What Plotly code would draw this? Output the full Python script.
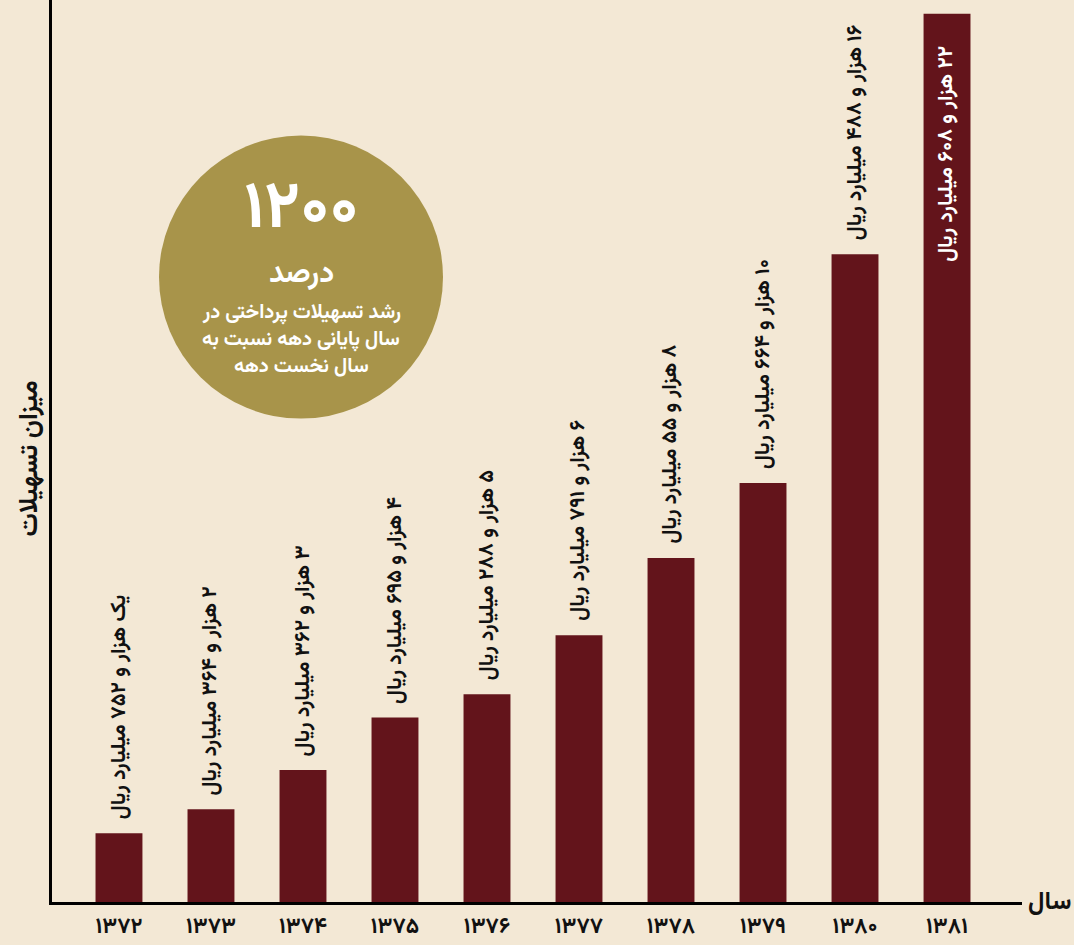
import plotly.graph_objects as go

# داده‌ها
years = ["۱۳۷۲", "۱۳۷۳", "۱۳۷۴", "۱۳۷۵", "۱۳۷۶", "۱۳۷۷", "۱۳۷۸", "۱۳۷۹", "۱۳۸۰", "۱۳۸۱"]
# میلیارد ریال (ارتفاع ستون‌ها)
values = [1752, 2364, 3362, 4695, 5288, 6791, 8755, 10664, 16488, 22608]
labels = [
    "یک هزار و ۷۵۲ میلیارد ریال",
    "۲ هزار و ۳۶۴ میلیارد ریال",
    "۳ هزار و ۳۶۲ میلیارد ریال",
    "۴ هزار و ۶۹۵ میلیارد ریال",
    "۵ هزار و ۲۸۸ میلیارد ریال",
    "۶ هزار و ۷۹۱ میلیارد ریال",
    "۸ هزار و ۵۵ میلیارد ریال",
    "۱۰ هزار و ۶۶۴ میلیارد ریال",
    "۱۶ هزار و ۴۸۸ میلیارد ریال",
    "۲۲ هزار و ۶۰۸ میلیارد ریال",
]
circle_lines = ["رشد تسهیلات پرداختی در", "سال پایانی دهه نسبت به", "سال نخست دهه"]

COLORS = {
    "bg": "#f3e8d5",
    "bar": "#63141b",
    "circle": "#a8944a",
    "text": "#111111",
}
FONT = "Vazirmatn, DejaVu Sans, Noto Sans, sans-serif"
RTL = "\u202b{}\u202c"   # جهت راست به چپ برای متن فارسی

W, H = 1074, 945
L, R, T, B = 52, 52, 0, 40
pw, ph = W - L - R, H - T - B

fig = go.Figure(go.Bar(
    x=years,
    y=values,
    width=0.51,
    marker=dict(color=COLORS["bar"], line=dict(width=0)),
    hoverinfo="skip",
))

# برچسب ستون‌ها (عمودی)
for i, (yr, v, lab) in enumerate(zip(years, values, labels)):
    last = i == len(years) - 1
    fig.add_annotation(
        x=yr, y=v, text="<b>" + RTL.format(lab) + "</b>", textangle=-90, showarrow=False,
        xanchor="center", yanchor="top" if last else "bottom",
        yshift=-30 if last else 12,
        font=dict(family=FONT, size=21, color="white" if last else COLORS["text"]),
    )

# دایره
def px(x):
    return (x - L) / pw

def py(y):
    return (H - B - y) / ph

cx, cy, r = 301, 278, 142
fig.add_shape(
    type="circle", xref="paper", yref="paper", layer="above",
    x0=px(cx - r), x1=px(cx + r), y0=py(cy + r), y1=py(cy - r),
    fillcolor=COLORS["circle"], line=dict(width=0),
)
circle_texts = [
    ("۱۲۰۰", 211, 66),
    ("درصد", 275, 30),
]
for text, y, size in circle_texts:
    fig.add_annotation(
        x=px(cx), y=py(y), xref="paper", yref="paper", text="<b>" + RTL.format(text) + "</b>",
        showarrow=False, xanchor="center", yanchor="middle",
        font=dict(family=FONT, size=size, color="white"),
    )
for j, line in enumerate(circle_lines):
    fig.add_annotation(
        x=px(cx), y=py(314 + 27 * j), xref="paper", yref="paper",
        text="<b>" + RTL.format(line) + "</b>",
        showarrow=False, xanchor="center", yanchor="middle",
        font=dict(family=FONT, size=20, color="white"),
    )

# عنوان محورها
fig.add_annotation(
    x=px(30), y=py(460), xref="paper", yref="paper", text="<b>میزان تسهیلات</b>",
    textangle=-90, showarrow=False, xanchor="center", yanchor="middle",
    font=dict(family=FONT, size=26, color=COLORS["text"]),
)
fig.add_annotation(
    x=px(1026), y=py(905), xref="paper", yref="paper", text="<b>سال</b>",
    showarrow=False, xanchor="left", yanchor="middle",
    font=dict(family=FONT, size=25, color=COLORS["text"]),
)

fig.update_layout(
    width=W, height=H,
    paper_bgcolor=COLORS["bg"],
    plot_bgcolor=COLORS["bg"],
    margin=dict(l=L, r=R, t=T, b=B),
    showlegend=False,
    xaxis=dict(
        range=[-0.728, 9.815], showgrid=False, zeroline=False,
        showline=True, linecolor="black", linewidth=3,
        tickvals=years, ticktext=[f"<b>{y}</b>" for y in years],
        tickfont=dict(family=FONT, size=22, color=COLORS["text"]),
        ticks="", ticklabelstandoff=2,
    ),
    yaxis=dict(
        range=[0, 22960], showgrid=False, zeroline=False,
        showline=True, linecolor="black", linewidth=3,
        showticklabels=False, ticks="",
    ),
)

fig.write_html(
    "out.html",
    config={"displayModeBar": False},
    post_script="document.body.style.margin='0';document.body.style.overflow='hidden';",
)
